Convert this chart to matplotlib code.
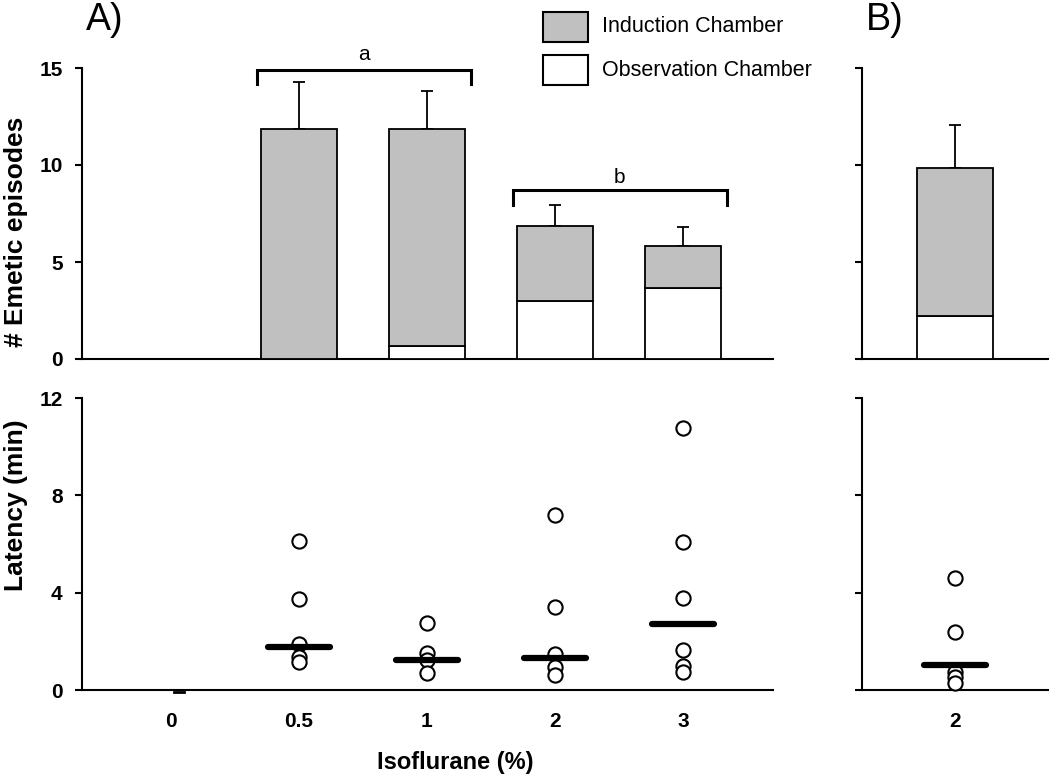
import matplotlib
matplotlib.use("Agg")
import matplotlib.pyplot as plt
from matplotlib.patches import Rectangle
import numpy as np

plt.rcParams['font.family'] = ['Liberation Sans', 'DejaVu Sans']

# ---- data ----
categories = ['0', '0.5', '1', '2', '3']
total_episodes = [0, 11.85, 11.85, 6.85, 5.85]
observation_episodes = [0, 0, 0.67, 3.0, 3.66]
sem_episodes = [np.nan, 2.45, 1.95, 1.07, 0.95]

b_category = ['2']
b_total = [9.85]
b_observation = [2.2]
b_sem = [2.21]

latency = {
    '0': [],
    '0.5': [6.13, 3.73, 1.89, 1.37, 1.16],
    '1': [2.77, 1.51, 1.25, 0.68],
    '2': [7.19, 3.4, 1.47, 0.96, 0.62],
    '3': [10.77, 6.07, 3.77, 1.64, 0.99, 0.75],
}
latency_median = [0, 1.77, 1.23, 1.30, 2.73]
b_latency = [4.59, 2.40, 0.75, 0.55, 0.27]
b_latency_median = [1.01]

groups_a = [1, 2]
groups_b = [3, 4]

# ---- figure ----
W, H = 1050, 778
fig = plt.figure(figsize=(W / 100, H / 100), dpi=100)

def fx(px):
    return px / W

def fy(py):
    return 1 - py / H

ax_top = fig.add_axes([fx(82), fy(359), fx(773) - fx(82), fy(68) - fy(359)])
ax_bot = fig.add_axes([fx(82), fy(690), fx(773) - fx(82), fy(398) - fy(690)])
bx_top = fig.add_axes([fx(862), fy(359), fx(1048) - fx(862), fy(68) - fy(359)])
bx_bot = fig.add_axes([fx(862), fy(690), fx(1048) - fx(862), fy(398) - fy(690)])

gray = '#c0c0c0'
bw = 0.6
x = np.arange(len(categories))
xb = np.arange(len(b_category))

def style(ax, show_labels=True):
    for s in ['top', 'right']:
        ax.spines[s].set_visible(False)
    for s in ['left', 'bottom']:
        ax.spines[s].set_linewidth(1.5)
    ax.tick_params(axis='y', direction='out', length=5, width=1.5, pad=9,
                   labelsize=15)
    ax.tick_params(axis='x', length=0, pad=16, labelsize=15)
    for lab in ax.get_yticklabels() + ax.get_xticklabels():
        lab.set_fontweight('bold')
    if not show_labels:
        ax.tick_params(axis='y', labelleft=False)

def bars(ax, pos, tot, obs, sem):
    tot = np.asarray(tot, float)
    obs = np.asarray(obs, float)
    ind = tot - obs
    ax.bar(pos, obs, bw, color='white', edgecolor='black', linewidth=1.3, zorder=3)
    ax.bar(pos, ind, bw, bottom=obs, color=gray, edgecolor='black', linewidth=1.3, zorder=3)
    sem = np.asarray(sem, float)
    ax.errorbar(pos, tot, yerr=[np.zeros_like(sem), sem], fmt='none', ecolor='black',
                elinewidth=1.3, capsize=4.5, capthick=1.3, zorder=2)

# top A
bars(ax_top, x, total_episodes, observation_episodes, sem_episodes)
ax_top.set_xlim(-0.695, 4.703)
ax_top.set_ylim(0, 15)
ax_top.set_yticks([0, 5, 10, 15])
ax_top.set_xticks([])
style(ax_top)

def bracket(ax, i0, i1, ytop, ydown, label, ylab):
    xs = [i0 - 0.33, i0 - 0.33, i1 + 0.34, i1 + 0.34]
    ys = [ydown, ytop, ytop, ydown]
    ax.plot(xs, ys, color='black', lw=2.2, clip_on=False, solid_joinstyle='miter', zorder=5)
    ax.text((xs[0] + xs[-1]) / 2, ylab, label, ha='center', va='center', fontsize=15)

bracket(ax_top, groups_a[0], groups_a[1], 14.9, 14.2, 'a', 15.7)
bracket(ax_top, groups_b[0], groups_b[1], 8.72, 7.95, 'b', 9.35)

# top B
bars(bx_top, xb, b_total, b_observation, b_sem)
bx_top.set_xlim(-0.727, 0.727)
bx_top.set_ylim(0, 15)
bx_top.set_yticks([0, 5, 10, 15])
bx_top.set_xticks([])
style(bx_top, show_labels=False)

# bottom A
mw = 0.24
for i, c in enumerate(categories):
    vals = latency[c]
    if vals:
        ax_bot.scatter([x[i]] * len(vals), vals, s=105, facecolor='white',
                       edgecolor='black', linewidth=1.5, zorder=3, clip_on=False)
        ax_bot.plot([x[i] - mw, x[i] + mw], [latency_median[i]] * 2, color='black',
                    lw=4.5, solid_capstyle='round', zorder=4)
    else:
        ax_bot.plot([x[i] + 0.02, x[i] + 0.1], [latency_median[i] - 0.1] * 2,
                    color='black', lw=2, zorder=4, clip_on=False)
ax_bot.set_xlim(-0.695, 4.703)
ax_bot.set_ylim(0, 12)
ax_bot.set_yticks([0, 4, 8, 12])
ax_bot.set_xticks(x)
ax_bot.set_xticklabels(categories)
style(ax_bot)

# bottom B
bx_bot.scatter([xb[0]] * len(b_latency), b_latency, s=105, facecolor='white',
               edgecolor='black', linewidth=1.5, zorder=3, clip_on=False)
bx_bot.plot([xb[0] - mw, xb[0] + mw], [b_latency_median[0]] * 2, color='black',
            lw=4.5, solid_capstyle='round', zorder=4)
bx_bot.set_xlim(-0.727, 0.727)
bx_bot.set_ylim(0, 12)
bx_bot.set_yticks([0, 4, 8, 12])
bx_bot.set_xticks(xb)
bx_bot.set_xticklabels(b_category)
style(bx_bot, show_labels=False)

# labels
fig.text(fx(16), fy(232), '# Emetic episodes', rotation=90, ha='center', va='center',
         fontsize=19, fontweight='bold')
fig.text(fx(16), fy(505), 'Latency (min)', rotation=90, ha='center', va='center',
         fontsize=19, fontweight='bold')
fig.text(fx(455), fy(762), 'Isoflurane (%)', ha='center', va='center',
         fontsize=17, fontweight='bold')
fig.text(fx(105), fy(20), 'A)', ha='center', va='center', fontsize=27)
fig.text(fx(885), fy(20), 'B)', ha='center', va='center', fontsize=27)

# legend
fig.patches.append(Rectangle((fx(543), fy(42)), fx(588) - fx(543), fy(12) - fy(42),
                             transform=fig.transFigure, facecolor=gray,
                             edgecolor='black', linewidth=1.5))
fig.patches.append(Rectangle((fx(543), fy(85)), fx(588) - fx(543), fy(55) - fy(85),
                             transform=fig.transFigure, facecolor='white',
                             edgecolor='black', linewidth=1.5))
fig.text(fx(602), fy(27), 'Induction Chamber', ha='left', va='center', fontsize=15.5)
fig.text(fx(602), fy(70), 'Observation Chamber', ha='left', va='center', fontsize=15.5)

fig.savefig('out.png', dpi=100)
